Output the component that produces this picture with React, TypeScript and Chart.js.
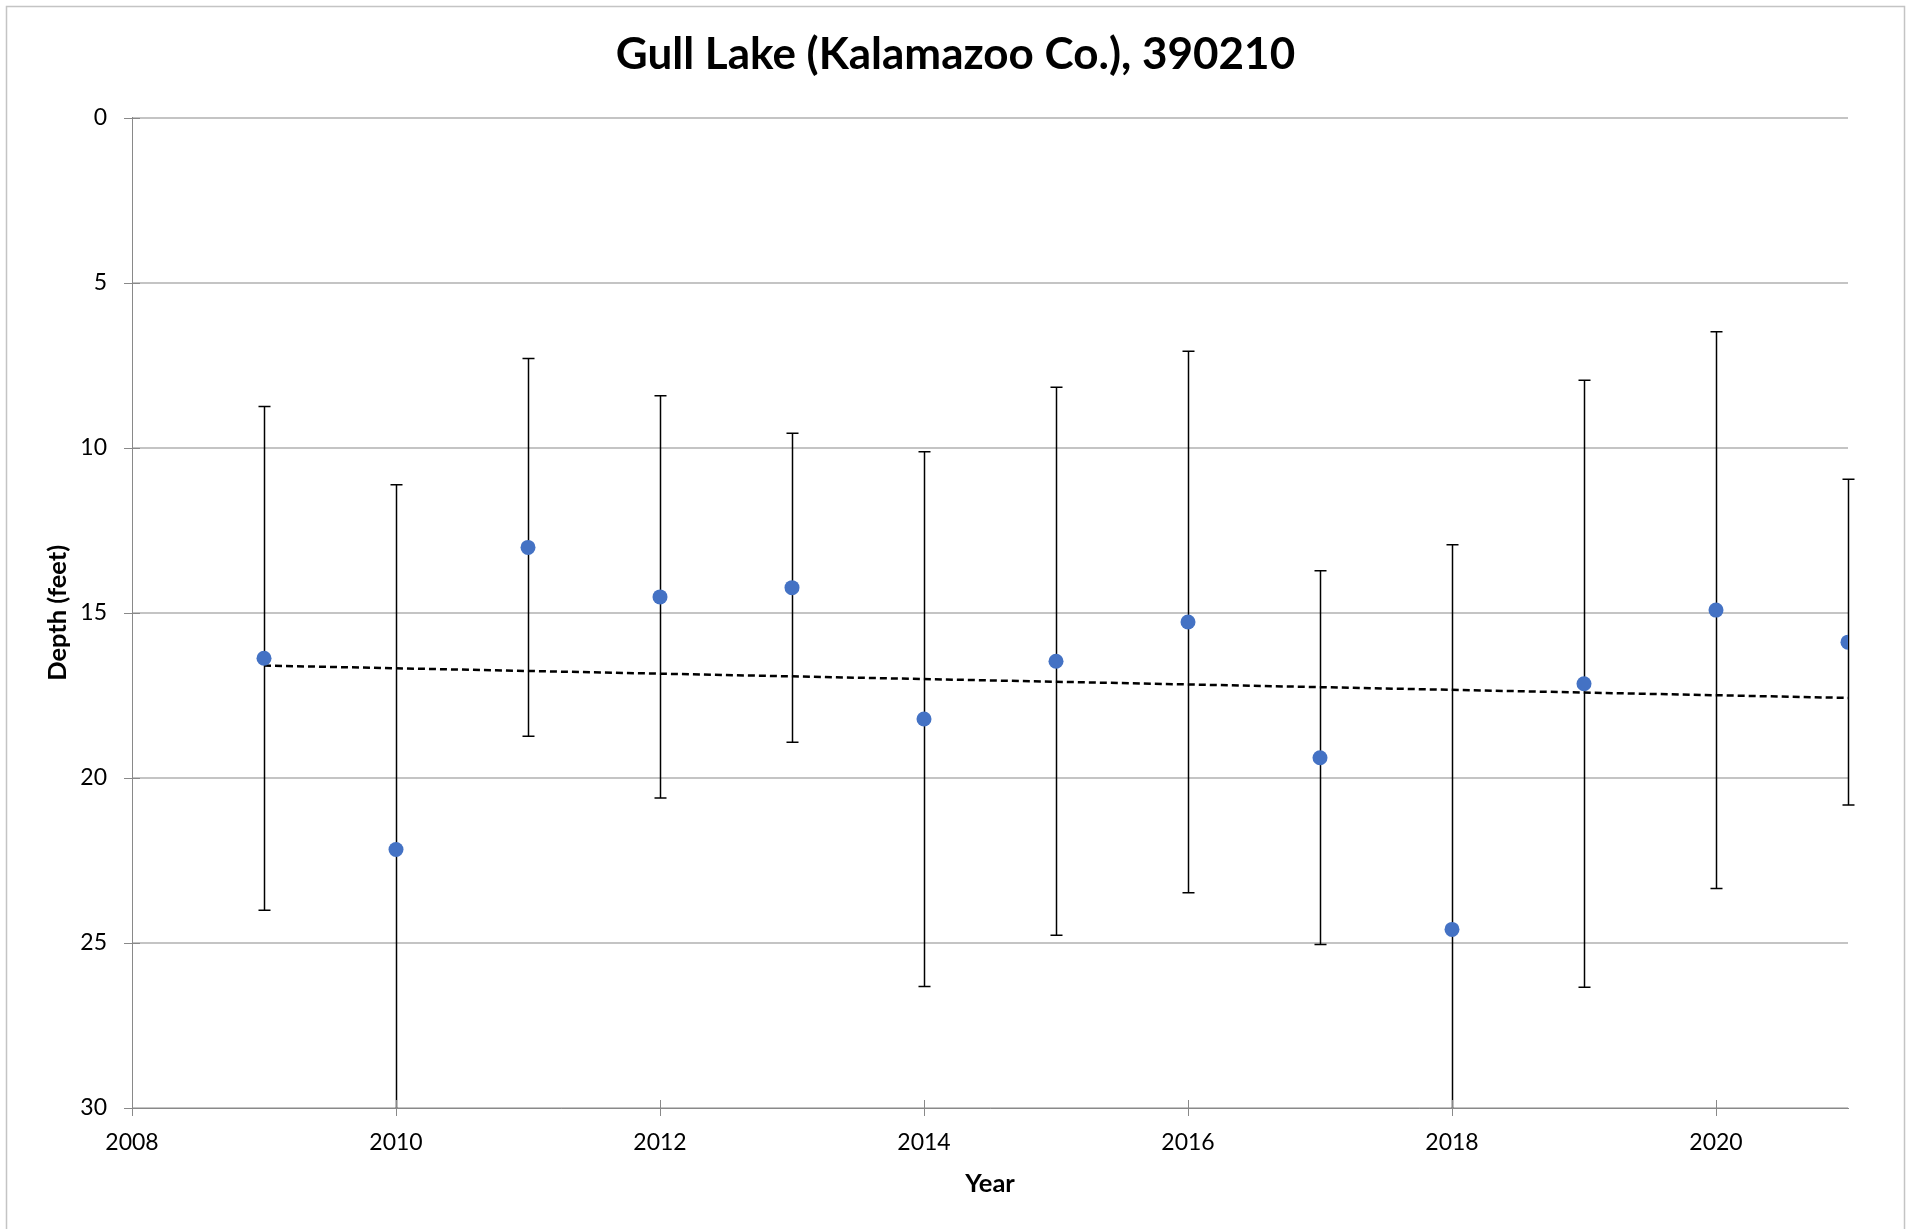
import React, { useEffect, useRef } from "react";
import { Chart, registerables } from "chart.js";

Chart.register(...registerables);

// ---- data ----
const years = [2009, 2010, 2011, 2012, 2013, 2014, 2015, 2016, 2017, 2018, 2019, 2020, 2021];
const meanDepth = [16.38, 22.17, 13.02, 14.52, 14.24, 18.22, 16.47, 15.28, 19.39, 24.59, 17.15, 14.92, 15.89];
const stdDev = [7.63, 11.05, 5.72, 6.09, 4.68, 8.1, 8.3, 8.2, 5.66, 11.65, 9.19, 8.43, 4.93];
const trendYears = [2009, 2021];
const trendDepth = [16.6, 17.58];

const xMin = 2008;
const xMax = 2021;
const xStep = 2;
const yMin = 0;
const yMax = 30;
const yStep = 5;

const chartTitle = "Gull Lake (Kalamazoo Co.), 390210";
const xTitle = "Year";
const yTitle = "Depth (feet)";

const W = 1919;
const H = 1229;
const FONT = "Lato, 'Open Sans', 'DejaVu Sans', sans-serif";
const AXIS_GRAY = "#898989";

const backgroundPlugin = {
  id: "bgBorder",
  beforeDraw(chart: any) {
    const { ctx } = chart;
    ctx.save();
    ctx.fillStyle = "#ffffff";
    ctx.fillRect(0, 0, chart.width, chart.height);
    ctx.strokeStyle = "#c4c4c4";
    ctx.lineWidth = 1.5;
    ctx.strokeRect(6.5, 6.5, 1898, chart.height + 20);
    ctx.restore();
  },
};

const errorBarPlugin = {
  id: "errorBars",
  afterDatasetDraw(chart: any, args: any) {
    if (args.index !== 1) return;
    const { ctx, chartArea } = chart;
    const xs = chart.scales.x;
    const ys = chart.scales.y;
    ctx.save();
    ctx.beginPath();
    ctx.rect(chartArea.left, chartArea.top - 1, chartArea.right - chartArea.left + 10, chartArea.bottom - chartArea.top + 1);
    ctx.clip();
    ctx.strokeStyle = "#000000";
    ctx.lineWidth = 1.5;
    const cap = 6;
    years.forEach((yr, i) => {
      const px = Math.round(xs.getPixelForValue(yr)) + 0.5;
      const lo = meanDepth[i] - stdDev[i];
      const hi = meanDepth[i] + stdDev[i];
      const pLo = ys.getPixelForValue(lo);
      const pHi = ys.getPixelForValue(hi);
      ctx.beginPath();
      ctx.moveTo(px, pLo);
      ctx.lineTo(px, pHi);
      if (lo >= yMin && lo <= yMax) {
        ctx.moveTo(px - cap, pLo);
        ctx.lineTo(px + cap, pLo);
      }
      if (hi >= yMin && hi <= yMax) {
        ctx.moveTo(px - cap, pHi);
        ctx.lineTo(px + cap, pHi);
      }
      ctx.stroke();
    });
    ctx.restore();
  },
};

const crossTicksPlugin = {
  id: "crossTicks",
  afterDraw(chart: any) {
    const { ctx, chartArea } = chart;
    const xs = chart.scales.x;
    const ys = chart.scales.y;
    ctx.save();
    ctx.strokeStyle = AXIS_GRAY;
    ctx.lineWidth = 1;
    ctx.beginPath();
    xs.ticks.forEach((t: any) => {
      const px = Math.round(xs.getPixelForValue(t.value)) + 0.5;
      ctx.moveTo(px, chartArea.bottom - 8);
      ctx.lineTo(px, chartArea.bottom + 8);
    });
    ys.ticks.forEach((t: any) => {
      const py = Math.round(ys.getPixelForValue(t.value)) + 0.5;
      ctx.moveTo(chartArea.left - 8, py);
      ctx.lineTo(chartArea.left + 8, py);
    });
    ctx.stroke();
    ctx.restore();
  },
};

export default function App() {
  const canvasRef = useRef<HTMLCanvasElement | null>(null);

  useEffect(() => {
    if (!canvasRef.current) return;
    const chart = new Chart(canvasRef.current, {
      type: "scatter",
      data: {
        datasets: [
          {
            label: "Mean depth",
            data: years.map((x, i) => ({ x, y: meanDepth[i] })),
            backgroundColor: "#4472C4",
            borderColor: "#4472C4",
            borderWidth: 0,
            pointRadius: 7.5,
            pointHoverRadius: 7.5,
            order: 1,
          },
          {
            type: "line",
            label: "Linear trend",
            data: trendYears.map((x, i) => ({ x, y: trendDepth[i] })),
            borderColor: "#000000",
            borderWidth: 2.5,
            borderDash: [7, 4],
            pointRadius: 0,
            fill: false,
            order: 2,
          } as any,
        ],
      },
      options: {
        responsive: false,
        animation: false,
        devicePixelRatio: 1,
        layout: { padding: { left: 6, right: 14, top: 0, bottom: 0 } },
        plugins: {
          legend: { display: false },
          tooltip: { enabled: false },
          title: {
            display: true,
            text: chartTitle,
            color: "#000000",
            font: { family: FONT, size: 44, weight: "bold" },
            padding: { top: 28.5, bottom: 36.2 },
          },
        },
        scales: {
          x: {
            type: "linear",
            min: xMin,
            max: xMax,
            grid: { display: false, drawTicks: false },
            border: { display: true, color: AXIS_GRAY, width: 1 },
            ticks: {
              stepSize: xStep,
              includeBounds: false,
              padding: 21,
              color: "#000000",
              font: { family: FONT, size: 23 },
              maxRotation: 0,
              callback: (v: any) => String(v),
            },
            title: {
              display: true,
              text: xTitle,
              color: "#000000",
              font: { family: FONT, size: 25.5, weight: "bold" },
              padding: { top: 0, bottom: 30 },
            },
            afterFit: (s: any) => {
              s.height = 121;
            },
          },
          y: {
            type: "linear",
            reverse: true,
            min: yMin,
            max: yMax,
            grid: { color: "#c4c4c4", lineWidth: 2, drawTicks: false },
            border: { display: true, color: AXIS_GRAY, width: 1 },
            ticks: {
              stepSize: yStep,
              padding: 25,
              color: "#000000",
              font: { family: FONT, size: 23 },
            },
            title: {
              display: true,
              text: yTitle,
              color: "#000000",
              font: { family: FONT, size: 25.5, weight: "bold" },
              padding: { top: 36.5, bottom: 0 },
            },
            afterFit: (s: any) => {
              s.width = 126;
            },
          },
          spacer: {
            type: "linear",
            position: "right",
            display: true,
            grid: { display: false, drawTicks: false },
            border: { display: false },
            ticks: { display: false },
            afterFit: (s: any) => {
              s.width = 57;
            },
          },
        },
      },
      plugins: [backgroundPlugin, errorBarPlugin, crossTicksPlugin],
    } as any);
    return () => chart.destroy();
  }, []);

  return (
    <div style={{ position: "fixed", left: 0, top: 0, width: W, height: H, background: "#fff" }}>
      <canvas ref={canvasRef} width={W} height={H} style={{ display: "block", width: W, height: H }} />
    </div>
  );
}
